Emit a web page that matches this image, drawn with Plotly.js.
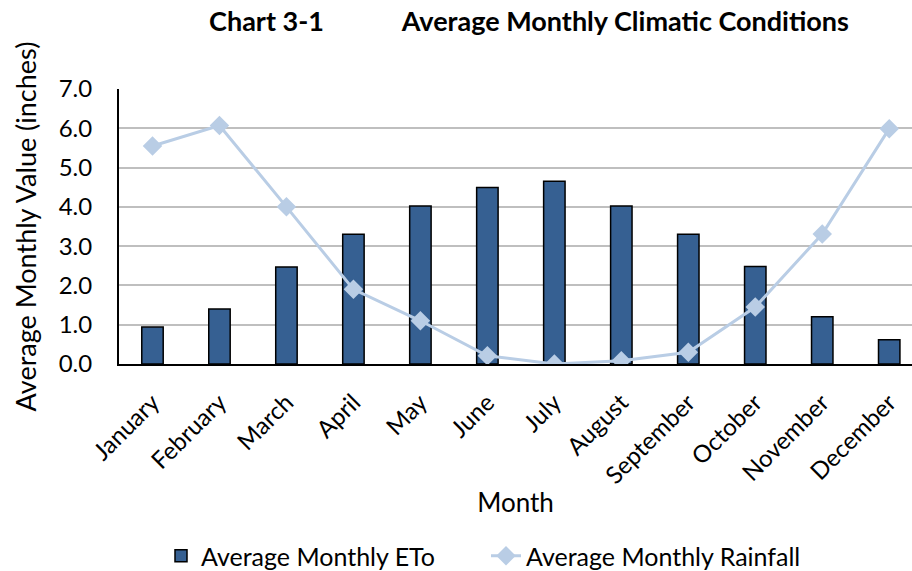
<!DOCTYPE html>
<html>
<head>
<meta charset="utf-8">
<script src="https://cdn.plot.ly/plotly-3.0.1.min.js"></script>
<style>html,body{margin:0;padding:0;background:#fff;}#chart{width:912px;height:571px;}</style>
</head>
<body>
<div id="chart"></div>
<script>
const months = ["January","February","March","April","May","June","July","August","September","October","November","December"];
const eto = [0.94, 1.40, 2.47, 3.30, 4.02, 4.49, 4.65, 4.02, 3.30, 2.48, 1.20, 0.62];
const rainfall = [5.55, 6.07, 4.00, 1.90, 1.10, 0.21, 0.00, 0.08, 0.30, 1.45, 3.31, 5.99];
const yTicks = [0,1,2,3,4,5,6,7];
const yTickText = yTicks.map(v => v.toFixed(1));

const FONT = "Lato, 'Open Sans', sans-serif";

const traces = [
  {
    type: "bar", name: "Average Monthly ETo", x: months, y: eto, width: 0.32,
    marker: {color: "#366092", line: {color: "#000000", width: 1.5}}
  },
  {
    type: "scatter", mode: "lines+markers", name: "Average Monthly Rainfall", x: months, y: rainfall,
    line: {color: "#b9cde5", width: 3},
    marker: {symbol: "diamond", size: 15, color: "#b9cde5"}
  }
];

const layout = {
  width: 912, height: 571,
  margin: {l: 119, r: 0, t: 89, b: 207},
  paper_bgcolor: "#ffffff", plot_bgcolor: "#ffffff",
  font: {family: FONT, color: "#000000", size: 22},
  title: {
    text: "<b>Chart 3-1\u00a0\u00a0\u00a0\u00a0\u00a0\u00a0\u00a0\u00a0\u00a0\u00a0\u00a0\u00a0Average Monthly Climatic Conditions</b>",
    font: {family: FONT, size: 27, color: "#000000"},
    x: 529/912, xanchor: "center", xref: "container",
    y: 1 - 22/571, yanchor: "middle", yref: "container"
  },
  showlegend: true,
  legend: {
    orientation: "h", xref: "container", x: 486/912, xanchor: "center",
    yref: "container", y: 15/571, yanchor: "middle",
    font: {family: FONT, size: 25}, traceorder: "normal", itemwidth: 30,
    entrywidth: 280
  },
  xaxis: {
    type: "category", range: [-0.5, 11.34], automargin: false,
    tickangle: -45, tickfont: {family: FONT, size: 24},
    ticklabelstandoff: 13,
    showline: true, linecolor: "#000000", linewidth: 2,
    ticks: "", showgrid: false,
    title: {text: "Month", font: {family: FONT, size: 26}, standoff: 6}
  },
  yaxis: {
    range: [0, 7], tickvals: yTicks, ticktext: yTickText, automargin: false,
    tickfont: {family: FONT, size: 24},
    ticklabelstandoff: 20,
    showline: true, linecolor: "#000000", linewidth: 2,
    showgrid: true, gridcolor: "#bfbfbf", gridwidth: 1.5,
    zeroline: false, ticks: "", ticklen: 0,
    title: {text: "Average Monthly Value (inches)", font: {family: FONT, size: 27}, standoff: 14}
  },
  bargap: 0.68
};

Plotly.newPlot("chart", traces, layout, {displayModeBar: false, responsive: false});
</script>
</body>
</html>
